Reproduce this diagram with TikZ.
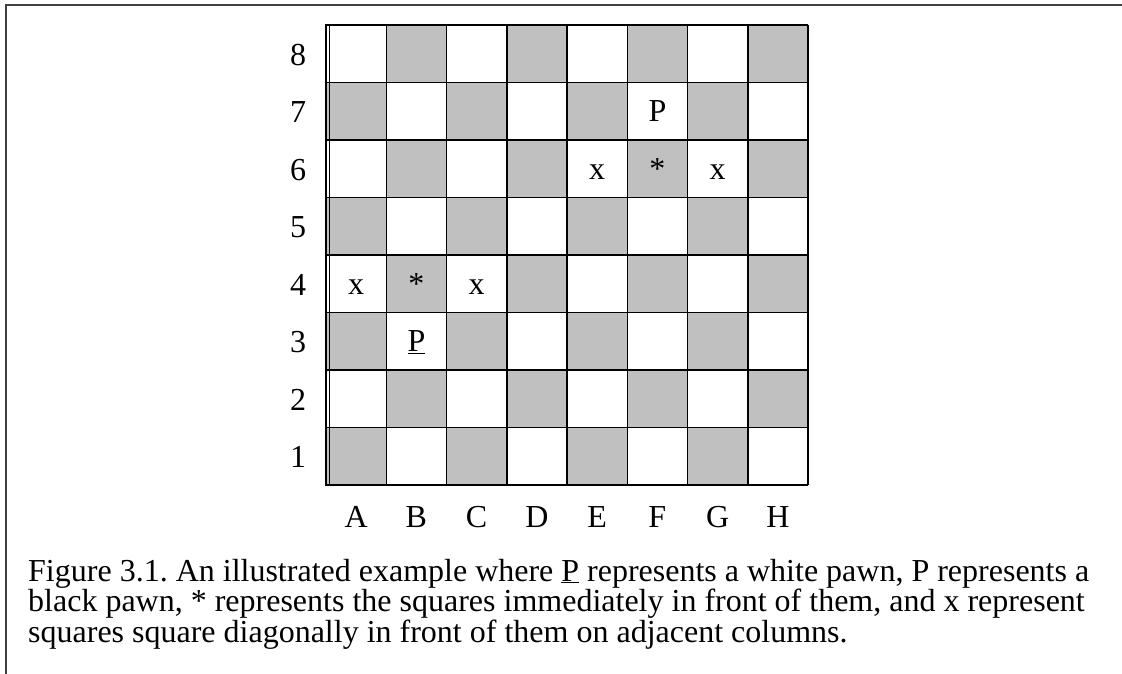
\documentclass[tikz,border=0pt]{standalone}
\usepackage{fontspec}
\setmainfont{Liberation Serif}
\usepackage{xcolor}
\usepackage{tikz}
\definecolor{boardgray}{HTML}{C0C0C0}
\frenchspacing
\tikzset{
  dark/.style={fill=boardgray},
  gridline/.style={line width=1.5pt},
  piece/.style={anchor=base,inner sep=0pt},
  caption/.style={anchor=base west,inner sep=0pt}
}

\begin{document}
\begin{tikzpicture}[x=1pt,y=-1pt,font=\fontsize{32}{32}\selectfont]
\useasboundingbox (0,0) rectangle (1122,674);
% outer frame (open at right and bottom)
\draw[line width=2pt,black!75] (1122,5) -- (6,5) -- (6,674);
% dark squares
\foreach \c in {1,...,8}
  \foreach \r in {1,...,8} {
    \pgfmathtruncatemacro\sqparity{mod(\c+\r,2)}
    \ifnum\sqparity=0
      \fill[dark] ({326+(\c-1)*60.25},{25+(8-\r)*57.5}) rectangle +(60.25,57.5);
    \fi
  }
% grid
\foreach \i in {1,...,8} \draw[gridline] ({326+\i*60.25},25) -- ({326+\i*60.25},485);
\foreach \j in {0,...,7} \draw[gridline] (326,{25+\j*57.5}) -- (808,{25+\j*57.5});
\draw[line width=2.5pt] (326,485) -- (808,485);
\draw[line width=2.5pt] (326,24) -- (326,486);
\draw[line width=1pt] (329.5,26) -- (329.5,484);
% rank and file labels
\foreach \r in {1,...,8}
  \node[piece] (rank\r) at (298,{25+(8.5-\r)*57.5+11.5}) {\r};
\foreach \f [count=\i] in {A,B,C,D,E,F,G,H}
  \node[piece] (file\f) at ({326+(\i-0.5)*60.25},527.6) {\f};
% pawns and their squares
\node[piece] (wpawn) at (416.4,351.5) {\underline{P}};
\node[piece] (wfront) at (416.4,294) {*};
\node[piece] (wleft) at (356.1,294) {x};
\node[piece] (wright) at (476.6,294) {x};
\node[piece] (bpawn) at (657.4,121.7) {P};
\node[piece] (bfront) at (657.4,179.5) {*};
\node[piece] (bleft) at (597.1,179.5) {x};
\node[piece] (bright) at (717.6,179.5) {x};
% caption
\node[caption] (cap1) at (28,581) {Figure 3.1. An illustrated example where \underline{P} represents a white pawn, P represents a};
\node[caption] (cap2) at (28,611.5) {black pawn, * represents the squares immediately in front of them, and x represent};
\node[caption] (cap3) at (28,642) {squares square diagonally in front of them on adjacent columns.};
\end{tikzpicture}
\end{document}
